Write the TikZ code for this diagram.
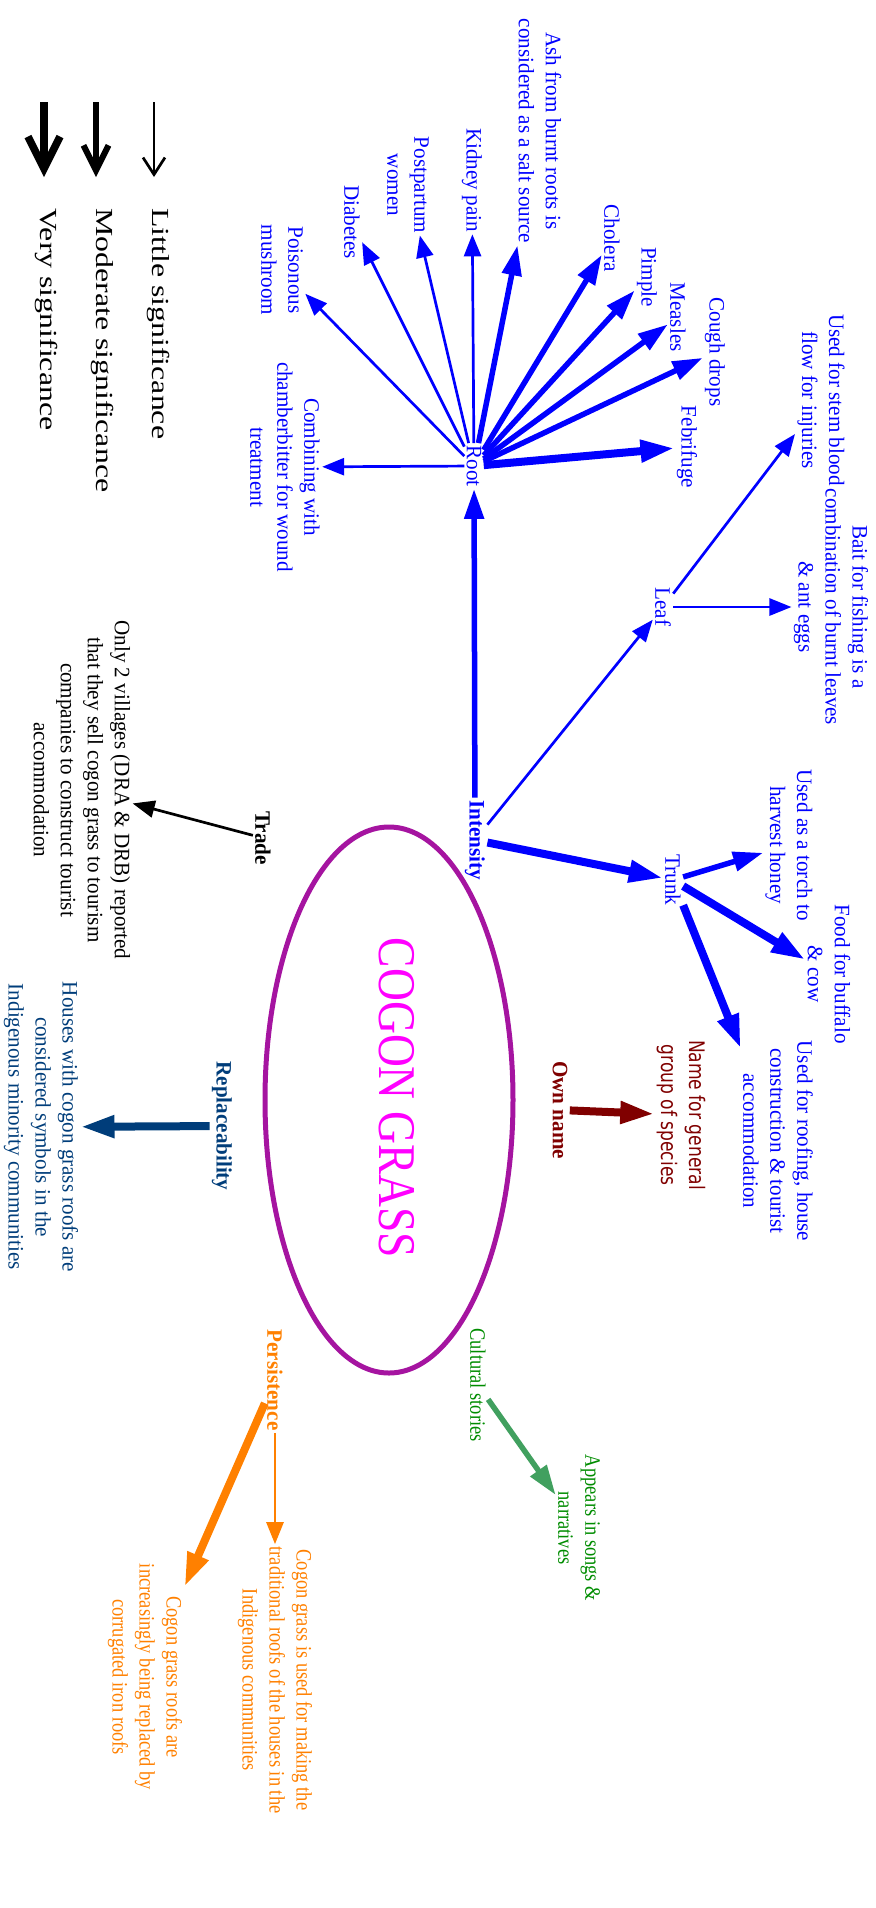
\documentclass[tikz,border=0pt]{standalone}
\usepackage{fontspec}
\setmainfont[FakeStretch=0.96]{Liberation Serif}
\newfontfamily\narrowfont[FakeStretch=0.84]{Liberation Serif}
\newfontfamily\widefont[FakeStretch=1.3]{Liberation Serif}
\newfontfamily\bigfont[FakeStretch=0.86]{Liberation Serif}
\newfontfamily\namefont[FakeStretch=0.8]{DejaVu Sans}
\usetikzlibrary{arrows.meta,shapes.geometric}
\definecolor{usesblue}{RGB}{0,0,255}
\definecolor{ovalpurple}{RGB}{165,20,160}
\definecolor{titlemagenta}{RGB}{255,0,255}
\definecolor{roofblue}{RGB}{0,61,122}
\definecolor{namered}{RGB}{128,0,0}
\definecolor{persistorange}{RGB}{255,128,0}
\definecolor{storygreen}{RGB}{0,140,0}
\definecolor{storyarrow}{RGB}{65,160,95}
\begin{document}
\begin{tikzpicture}[x=0.5pt, y=-0.5pt,
    txt/.style={rotate=-90, align=center, inner sep=1pt, font=\fontsize{11}{13.5}\selectfont},
    hub/.style={txt, font=\fontsize{11}{13.5}\selectfont\bfseries},
    slim/.style={txt, font=\narrowfont\fontsize{11}{13.5}\selectfont},
    legendtxt/.style={rotate=-90, anchor=west, inner sep=0pt, font=\widefont\fontsize{12.25}{14}\selectfont},
    weak/.style={-{Triangle[length=11pt,width=8.5pt]}, line width=1.35pt},
    fair/.style={-{Triangle[length=15pt,width=9.5pt]}, line width=2.75pt},
    heavy/.style={-{Triangle[length=17pt,width=10.5pt]}, line width=4pt}]
  \useasboundingbox (0,0) rectangle (876,1908);

  % legend
  \coordinate (lit1) at (154,102);
  \coordinate (lit2) at (154,177);
  \coordinate (mod1) at (96,102);
  \coordinate (mod2) at (96,177);
  \coordinate (very1) at (44,102);
  \coordinate (very2) at (44,177);
  \node[legendtxt] (little) at (158,208) {Little significance};
  \node[legendtxt] (moderate) at (102,208) {Moderate significance};
  \node[legendtxt] (verysig) at (46,208) {Very significance};
  \draw[line width=1.35pt, -{Straight Barb[length=8.5pt,width=11pt]}] (lit1) -- (lit2);
  \draw[line width=3pt, -{Straight Barb[length=12.5pt,width=12.5pt]}] (mod1) -- (mod2);
  \draw[line width=3.75pt, -{Straight Barb[length=16pt,width=16pt]}] (very1) -- (very2);

  % centre
  \node[ellipse, draw=ovalpurple, line width=2.5pt, minimum width=124pt, minimum height=273pt, inner sep=0pt] (oval) at (389,1100) {};
  \node[txt, text=titlemagenta, font=\bigfont\fontsize{26.5}{30}\selectfont] (grass) at (397,1098) {COGON GRASS};

  % intensity
  \begin{scope}[text=usesblue]
    \node[hub] (intensity) at (475,840) {Intensity};
    \node[txt] (root) at (474,466) {Root};
    \node[txt] (leaf) at (663,607) {Leaf};
    \node[txt] (trunk) at (673,880) {Trunk};
    \node[txt] (poison) at (282,270) {Poisonous\\mushroom};
    \node[txt] (diabetes) at (352,222) {Diabetes};
    \node[txt] (postpartum) at (408,185) {Postpartum\\women};
    \node[txt] (kidney) at (472,180) {Kidney pain};
    \node[txt] (ash) at (540,131) {Ash from burnt roots is\\considered as a salt source};
    \node[txt] (cholera) at (612,238) {Cholera};
    \node[txt] (pimple) at (647,277) {Pimple};
    \node[txt] (measles) at (678,317) {Measles};
    \node[txt] (cough) at (715,352) {Cough drops};
    \node[txt] (febrifuge) at (687,447) {Febrifuge};
    \node[txt] (combine) at (285,467) {Combining with\\chamberbitter for wound\\treatment};
    \node[txt] (stemflow) at (821,400) {Used for stem blood\\flow for injuries};
    \node[txt] (bait) at (831,607) {Bait for fishing is a\\combination of burnt leaves\\\& ant eggs};
    \node[txt] (torch) at (789,845) {Used as a torch to\\harvest honey};
    \node[txt] (fodder) at (829,974) {Food for buffalo\\\& cow};
    \node[txt] (roofing) at (778,1141) {Used for roofing, house\\construction \& tourist\\accommodation};
  \end{scope}
  \begin{scope}[usesblue]
    \draw[fair] (intensity) -- (root);
    \draw[weak] (intensity) -- (leaf);
    \draw[heavy] (intensity) -- (trunk);
    \draw[weak] (root) -- (poison);
    \draw[weak] (root) -- (diabetes);
    \draw[weak] (root) -- (postpartum);
    \draw[weak] (root) -- (kidney);
    \draw[fair] (root) -- (ash);
    \draw[fair] (root) -- (cholera);
    \draw[fair] (root) -- (pimple);
    \draw[fair] (root) -- (measles);
    \draw[fair] (root) -- (cough);
    \draw[heavy] (root) -- (febrifuge);
    \draw[weak] (root) -- (combine);
    \draw[weak] (leaf) -- (stemflow);
    \draw[weak] (leaf) -- (bait);
    \draw[fair] (trunk) -- (torch);
    \draw[heavy] (trunk) -- (fodder);
    \draw[heavy] (trunk) -- (roofing);
  \end{scope}

  % own name
  \node[hub, text=namered] (ownname) at (560,1110) {Own name};
  \node[txt, text=namered, font=\namefont\fontsize{10.7}{14}\selectfont] (general) at (681,1115) {Name for general\\group of species};
  \draw[heavy, namered] (ownname) -- (general);

  % trade
  \node[hub] (trade) at (263,838) {Trade};
  \node[txt] (sale) at (82,790) {Only 2 villages (DRA \& DRB) reported\\that they sell cogon grass to tourism\\companies to construct tourist\\accommodation};
  \draw[weak] (trade) -- (sale);

  % replaceability
  \node[hub, text=roofblue] (replace) at (222,1126) {Replaceability};
  \node[txt, text=roofblue] (symbol) at (41,1127) {Houses with cogon grass roofs are\\considered symbols in the\\Indigenous minority communities};
  \draw[heavy, roofblue] (replace) -- (symbol);

  % persistence
  \node[hub, text=persistorange] (persist) at (275,1380) {Persistence};
  \node[slim, text=persistorange] (making) at (275,1680) {Cogon grass is used for making the\\traditional roofs of the houses in the\\Indigenous communities};
  \node[slim, text=persistorange] (replaced) at (145,1677) {Cogon grass roofs are\\increasingly being replaced by\\corrugated iron roofs};
  \draw[weak, persistorange] (persist) -- (making);
  \draw[heavy, persistorange] (persist) -- (replaced);

  % cultural stories
  \node[slim, text=storygreen] (culture) at (478,1385) {Cultural stories};
  \node[slim, text=storygreen] (songs) at (579,1528) {Appears in songs \&\\narratives};
  \draw[fair, storyarrow] (culture) -- (songs);
\end{tikzpicture}
\end{document}
